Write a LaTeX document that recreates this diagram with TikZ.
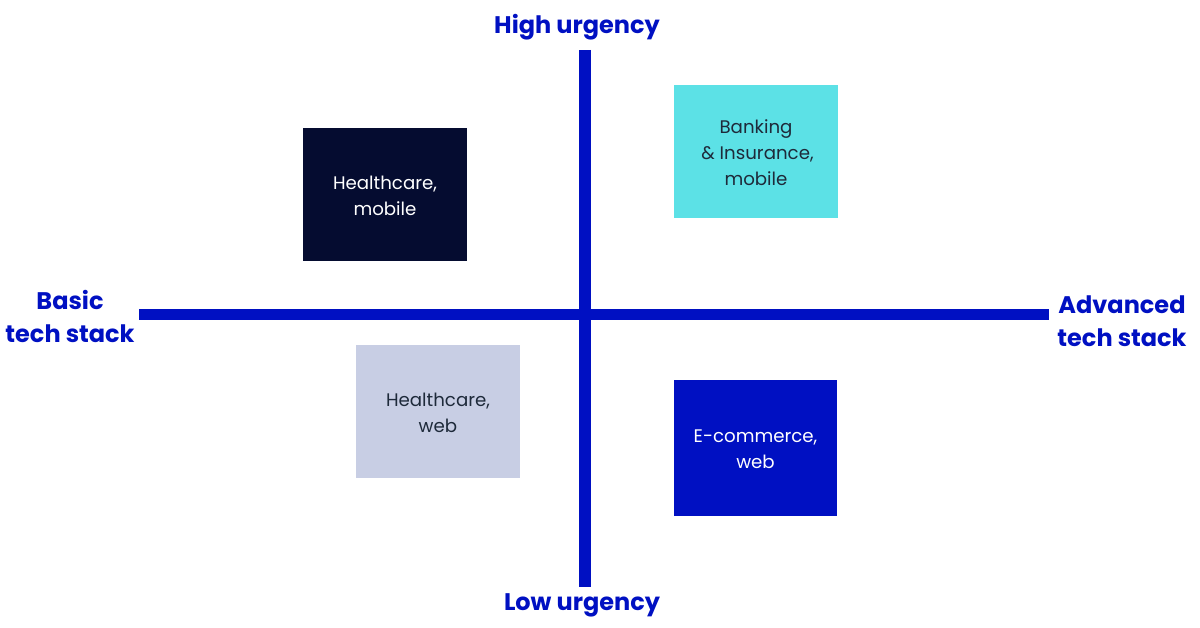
\documentclass[tikz,border=0pt]{standalone}
\usepackage{fontspec}
\setmainfont{Poppins}
\definecolor{axisblue}{HTML}{0010C2}
\definecolor{navy}{HTML}{050C30}
\definecolor{cyanbox}{HTML}{5CE1E6}
\definecolor{greybox}{HTML}{C8CEE4}
\definecolor{txtdark}{HTML}{1E2A3A}
\tikzset{
  axisline/.style={draw=axisblue, line width=11.5pt},
  axislabel/.style={text=axisblue, font=\fontsize{24}{33}\selectfont\bfseries, align=center, inner sep=0pt},
  quad/.style={minimum width=164pt, minimum height=133pt, inner sep=0pt, align=center, font=\fontsize{18.2}{26}\selectfont},
  quadtext/.style={align=center, inner sep=0pt, font=\fontsize{18.2}{26}\selectfont},
}
\begin{document}
\begin{tikzpicture}[x=1pt,y=-1pt]
\useasboundingbox (0,0) rectangle (1200,628);
\coordinate (vtop) at (585,50);
\coordinate (vbot) at (585,587);
\coordinate (hleft) at (139,314.5);
\coordinate (hright) at (1049,314.5);
\draw[axisline] (vtop) -- (vbot);
\draw[axisline] (hleft) -- (hright);
\node[axislabel] (high) at (577,27) {High urgency};
\node[axislabel] (low) at (582,605) {Low urgency};
\node[axislabel] (basic) at (70,316.5) {Basic\\tech stack};
\node[axislabel] (adv) at (1122,321.5) {Advanced\\tech stack};
\node[quad, fill=navy, text=white] (hm) at (385,194.5) {};
\node[quadtext, text=white] (hmt) at (385,195.5) {Healthcare,\\mobile};
\node[quad, fill=cyanbox] (bank) at (756,151.5) {};
\node[quadtext, text=txtdark] (bankt) at (756,152.5) {Banking\\\,\& Insurance,\\mobile};
\node[quad, fill=greybox] (hw) at (438,411.5) {};
\node[quadtext, text=txtdark] (hwt) at (438,412.5) {Healthcare,\\web};
\node[quad, fill=axisblue, minimum width=163pt, minimum height=136pt] (ec) at (755.5,448) {};
\node[quadtext, text=white] (ect) at (755.5,449) {E-commerce,\\web};
\end{tikzpicture}
\end{document}
